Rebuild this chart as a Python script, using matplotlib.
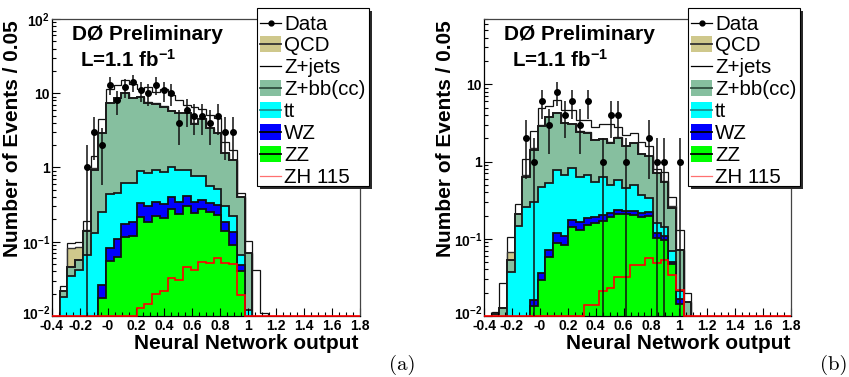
import numpy as np
import matplotlib
matplotlib.use("Agg")
import matplotlib.pyplot as plt
from matplotlib.patches import Rectangle
from matplotlib.lines import Line2D
from matplotlib.transforms import ScaledTranslation
from matplotlib.ticker import FixedLocator, MultipleLocator, LogLocator, NullFormatter

plt.rcParams['font.family'] = ['Liberation Sans', 'DejaVu Sans']
plt.rcParams['mathtext.fontset'] = 'custom'
plt.rcParams['mathtext.rm'] = 'Liberation Sans:bold'
plt.rcParams['mathtext.it'] = 'Liberation Sans:bold'
plt.rcParams['mathtext.bf'] = 'Liberation Sans:bold'
plt.rcParams['mathtext.sf'] = 'Liberation Sans:bold'

# ---------------- data ----------------
x_min, x_max, n_bins = -0.4, 1.8, 40

xtick_values = [-0.4, -0.2, 0.0, 0.2, 0.4, 0.6, 0.8, 1.0, 1.2, 1.4, 1.6, 1.8]
xtick_labels = ["-0.4", "-0.2", "-0", "0.2", "0.4", "0.6", "0.8", "1", "1.2", "1.4", "1.6", "1.8"]

legend_labels = ["Data", "QCD", "Z+jets", "Z+bb(cc)", "tt", "WZ", "ZZ", "ZH 115"]

# panel (a), per-bin contents (bins 0..27, the rest empty)
a_zz = [0, 0, 0, 0, 0, 0, 0.0177, 0.055, 0.062, 0.117, 0.12, 0.217, 0.186, 0.22, 0.206, 0.28,
        0.24, 0.30, 0.245, 0.28, 0.254, 0.23, 0.14, 0.09, 0.040, 0, 0, 0]
a_wz = [0, 0, 0, 0, 0, 0, 0.0083, 0.0265, 0.046, 0.054, 0.064, 0.113, 0.114, 0.12, 0.114, 0.12,
        0.10, 0.11, 0.095, 0.09, 0.076, 0.08, 0.046, 0.046, 0.008, 0.001, 0, 0]
a_tt = [0, 0.018, 0.0345, 0.042, 0.066, 0.13, 0.228, 0.354, 0.35, 0.439, 0.436, 0.57, 0.55, 0.59,
        0.54, 0.62, 0.58, 0.51, 0.44, 0.41, 0.23, 0.21, 0.114, 0.084, 0.018, 0.011, 0, 0]
a_zbb = [0, 0.004, 0.0105, 0.014, 0.074, 0.80, 2.63, 6.87, 8.04, 9.39, 7.88, 8.0, 6.65, 6.27,
         5.74, 4.68, 4.48, 4.48, 3.12, 3.72, 2.84, 2.38, 1.25, 1.04, 0.334, 0.058, 0, 0]
a_qcd = [0, 0, 0.038, 0.030, 0.002, 0.04, 0.07, 0.10, 0.10, 0.10, 0.10, 0.10, 0.10, 0.10, 0.10,
         0.10, 0.10, 0.10, 0.10, 0.10, 0.05, 0.05, 0.02, 0.02, 0, 0, 0, 0]
a_zjets = [0, 0.003, 0.012, 0.012, 0.048, 0.46, 1.49, 3.9, 4.3, 5.0, 4.7, 2.3, 4.4, 3.2, 4.6,
           3.7, 2.6, 1.4, 2.6, 1.5, 1.65, 1.65, 0.63, 0.44, 0.06, 0.033, 0.042, 0.011]
a_zh = [0, 0, 0, 0, 0, 0, 0, 0, 0, 0, 0, 0.013, 0.0145, 0.020, 0.022, 0.033, 0.031, 0.045, 0.042,
        0.054, 0.051, 0.060, 0.051, 0.050, 0.019, 0, 0, 0]
a_data = [0, 0, 0, 0, 1, 3, 2, 13, 8, 12, 14, 11, 10, 13, 11, 10, 4, 6, 5, 5, 4, 5, 3, 3, 0, 0, 0, 0]

# panel (b)
b_zz = [0, 0, 0, 0, 0, 0, 0.0135, 0.0292, 0.0575, 0.089, 0.083, 0.143, 0.130, 0.150, 0.158,
        0.171, 0.189, 0.207, 0.207, 0.203, 0.189, 0.199, 0.101, 0.097, 0.047, 0.0145, 0, 0]
b_wz = [0, 0, 0, 0, 0, 0, 0.0026, 0.0072, 0.0141, 0.029, 0.026, 0.032, 0.033, 0.034, 0.031,
        0.032, 0.024, 0.029, 0.024, 0.028, 0.024, 0.021, 0.017, 0.012, 0.003, 0.002, 0, 0]
b_tt = [0, 0, 0, 0.0375, 0.146, 0.255, 0.286, 0.437, 0.460, 0.659, 0.560, 0.642, 0.474, 0.485,
        0.359, 0.434, 0.284, 0.341, 0.219, 0.266, 0.156, 0.114, 0.042, 0.031, 0.020, 0.0045, 0, 0]
b_zbb = [0, 0.0105, 0.0126, 0.0155, 0.063, 0.382, 1.108, 2.41, 3.21, 3.43, 2.45, 2.24, 1.80, 1.70,
         1.35, 1.30, 1.25, 1.46, 1.14, 1.22, 0.88, 0.83, 0.54, 0.41, 0.178, 0.051, 0.0153, 0]
b_qcd = [0, 0, 0, 0.015, 0.003, 0.032, 0.09, 0.10, 0.06, 0.07, 0.03, 0.04, 0.03, 0.03, 0.02,
         0.03, 0.02, 0.03, 0.02, 0.02, 0.02, 0.01, 0.01, 0.01, 0.017, 0, 0, 0]
b_zjets = [0, 0.0008, 0.014, 0.038, 0.070, 0.40, 0.98, 1.92, 1.44, 1.98, 1.50, 1.55, 0.98, 1.05,
           0.91, 1.09, 1.29, 0.76, 0.60, 0.63, 0.54, 0.43, 0.08, 0.18, 0.086, 0.058, 0.0044, 0]
b_zh = [0, 0, 0, 0, 0, 0, 0, 0, 0, 0, 0, 0, 0, 0.014, 0.014, 0.021, 0.023, 0.032, 0.032, 0.046,
        0.046, 0.057, 0.049, 0.053, 0.034, 0.022, 0, 0]
b_data = [0, 0, 0, 0, 0, 2, 1, 6, 3, 8, 4, 6, 3, 6, 0, 1, 4, 4, 1, 0, 0, 2, 1, 1, 0, 1, 0, 0]

# ---------------- style ----------------
C_QCD = '#cfc88c'
C_ZJ = 'white'
C_ZBB = '#86bf9f'
C_TT = '#00ffff'
C_WZ = '#0000ff'
C_ZZ = '#00ff00'
C_ZH = '#ff0000'

W, H = 849, 377
fig = plt.figure(figsize=(W / 100, H / 100), dpi=100)


def fx(px):
    return px / W


def fy(py):
    return 1 - py / H


def pad(v):
    v = np.asarray(v, dtype=float)
    return np.pad(v, (0, n_bins - len(v)))


def draw_panel(ax, zz, wz, tt, zbb, qcd, zj, zh, data, ymax, yticks, yticklabels):
    edges = np.linspace(x_min, x_max, n_bins + 1)
    centers = 0.5 * (edges[:-1] + edges[1:])
    layers = [pad(zz), pad(wz), pad(tt), pad(zbb), pad(qcd), pad(zj)]
    cum = np.cumsum(layers, axis=0)
    fills = [C_ZZ, C_WZ, C_TT, C_ZBB, C_QCD, C_ZJ]
    ecols = ['#111111', '#111111', '#1a1a1a', '#1a1a1a', '#333333', '#111111']
    lws = [1.3, 1.3, 1.3, 1.4, 1.0, 0.9]
    for i in reversed(range(6)):
        top = np.where(cum[i] > 0, cum[i], 1e-4)
        ax.stairs(top, edges, baseline=1e-4, fill=True, facecolor=fills[i],
                  edgecolor=ecols[i], linewidth=lws[i], zorder=1 + (5 - i) * 0.01)
    zhv = pad(zh)
    ax.stairs(np.where(zhv > 0, zhv, 1e-2), edges, baseline=None, fill=False,
              edgecolor=C_ZH, linewidth=1.2, zorder=3, clip_on=False)
    d = pad(data)
    m = d > 0
    lo = d[m] - np.maximum(d[m] - np.sqrt(d[m]), 1e-3)
    hi = np.sqrt(d[m])
    ax.errorbar(centers[m], d[m], yerr=[lo, hi], fmt='o', ms=4, color='black',
                ecolor='#111111', elinewidth=1.1, capsize=0, zorder=5)

    ax.set_xlim(x_min, x_max)
    ax.set_yscale('log')
    ax.set_ylim(1e-2, ymax)
    ax.xaxis.set_major_locator(FixedLocator(xtick_values))
    ax.set_xticklabels(xtick_labels, fontsize=10, fontweight='bold')
    ax.xaxis.set_minor_locator(MultipleLocator(0.05))
    ax.yaxis.set_major_locator(FixedLocator(yticks))
    ax.set_yticklabels(yticklabels, fontsize=10, fontweight='bold')
    ax.yaxis.set_minor_locator(LogLocator(base=10, subs=np.arange(2, 10)))
    ax.yaxis.set_minor_formatter(NullFormatter())
    ax.tick_params(which='major', direction='in', length=5.5, width=0.8, top=False, right=False)
    ax.tick_params(which='minor', direction='in', length=2.8, width=0.8, top=False, right=False)
    ax.tick_params(axis='x', which='major', pad=2.0)
    ax.tick_params(axis='y', which='major', pad=1.5)
    for s in ax.spines.values():
        s.set_linewidth(0.9)
        s.set_zorder(2.5)
    ax.spines['top'].set_color('#444444')
    ax.spines['right'].set_color('#444444')
    # lift the lowest decade label a little so it clears the first x label
    lowest = ax.yaxis.get_major_ticks()[0].label1
    lowest.set_transform(lowest.get_transform() + ScaledTranslation(0, 3.5 / 100, fig.dpi_scale_trans))


def add_legend(x0):
    y0, w, h = 7.5, 112.0, 178.0
    fig.add_artist(Rectangle((fx(x0 + 3), fy(y0 + h + 3)), w / W, h / H, transform=fig.transFigure,
                             facecolor='#2a2a2a', edgecolor='none', zorder=20))
    fig.add_artist(Rectangle((fx(x0), fy(y0 + h)), w / W, h / H, transform=fig.transFigure,
                             facecolor='white', edgecolor='black', linewidth=0.8, zorder=21))
    kinds = ['data', 'box', 'line', 'box', 'box', 'box', 'box', 'line']
    faces = [None, C_QCD, None, C_ZBB, C_TT, C_WZ, C_ZZ, None]
    lcols = ['black', '#333333', 'black', '#2f4f3f', '#1f8f8f', 'black', 'black', '#ff7070']
    sx0, sx1 = x0 + 3, x0 + 24
    for i, lab in enumerate(legend_labels):
        cy = 22.5 + 21.86 * i
        if kinds[i] == 'box':
            fig.add_artist(Rectangle((fx(sx0), fy(cy + 8)), (sx1 - sx0) / W, 16 / H,
                                     transform=fig.transFigure, facecolor=faces[i],
                                     edgecolor='none', zorder=22))
        lw = 1.3 if kinds[i] == 'box' else 0.9
        fig.add_artist(Line2D([fx(sx0), fx(sx1)], [fy(cy), fy(cy)], transform=fig.transFigure,
                              color=lcols[i], linewidth=lw, zorder=23))
        if kinds[i] == 'data':
            fig.add_artist(Line2D([fx((sx0 + sx1) / 2)], [fy(cy)], transform=fig.transFigure,
                                  marker='o', ms=3.5, color='black', zorder=24))
        fig.text(fx(x0 + 27), fy(cy + 7), lab, fontsize=14.8, ha='left', va='baseline', zorder=25)


# axes rectangles (pixels)
ax_top, ax_bot = 19, 316
panels = [
    dict(left=52, right=360, xlab_right=358, ylab_x=13),
    dict(left=484, right=791, xlab_right=790, ylab_x=445),
]
axa = fig.add_axes([fx(52), fy(ax_bot), (360 - 52) / W, (ax_bot - ax_top) / H])
axb = fig.add_axes([fx(484), fy(ax_bot), (791 - 484) / W, (ax_bot - ax_top) / H])

draw_panel(axa, a_zz, a_wz, a_tt, a_zbb, a_qcd, a_zjets, a_zh, a_data, 100,
           [0.01, 0.1, 1, 10, 100], [r'$10^{-2}$', r'$10^{-1}$', '1', '10', r'$10^{2}$'])
draw_panel(axb, b_zz, b_wz, b_tt, b_zbb, b_qcd, b_zjets, b_zh, b_data, 70,
           [0.01, 0.1, 1, 10], [r'$10^{-2}$', r'$10^{-1}$', '1', '10'])

ah = ax_bot - ax_top
for ax, p in zip([axa, axb], panels):
    width = p['right'] - p['left']
    ax.set_xlabel("Neural Network output", fontsize=15, fontweight='bold', ha='right', va='baseline')
    ax.xaxis.set_label_coords((p['xlab_right'] - p['left']) / width, (ax_bot - 349) / ah)
    ax.set_ylabel("Number of Events / 0.05", fontsize=15, fontweight='bold',
                  ha='right', va='center', rotation=90, rotation_mode='anchor')
    ax.yaxis.set_label_coords((p['ylab_x'] - p['left']) / width, (ax_bot - 20) / ah)
    ax.text(20 / width, (ax_bot - 40) / ah, "DØ Preliminary", transform=ax.transAxes,
            fontsize=15, fontweight='bold', ha='left', va='baseline')
    ax.text(28 / width, (ax_bot - 67) / ah, r"L=1.1 fb$^{-1}$", transform=ax.transAxes,
            fontsize=14.8, fontweight='bold', ha='left', va='baseline')

add_legend(257)
add_legend(688)

fig.text(fx(402), fy(365), "(a)", family='cmr10', fontsize=15, ha='center', va='center')
fig.text(fx(834), fy(365), "(b)", family='cmr10', fontsize=15, ha='center', va='center')

fig.savefig("out.png", dpi=100)
